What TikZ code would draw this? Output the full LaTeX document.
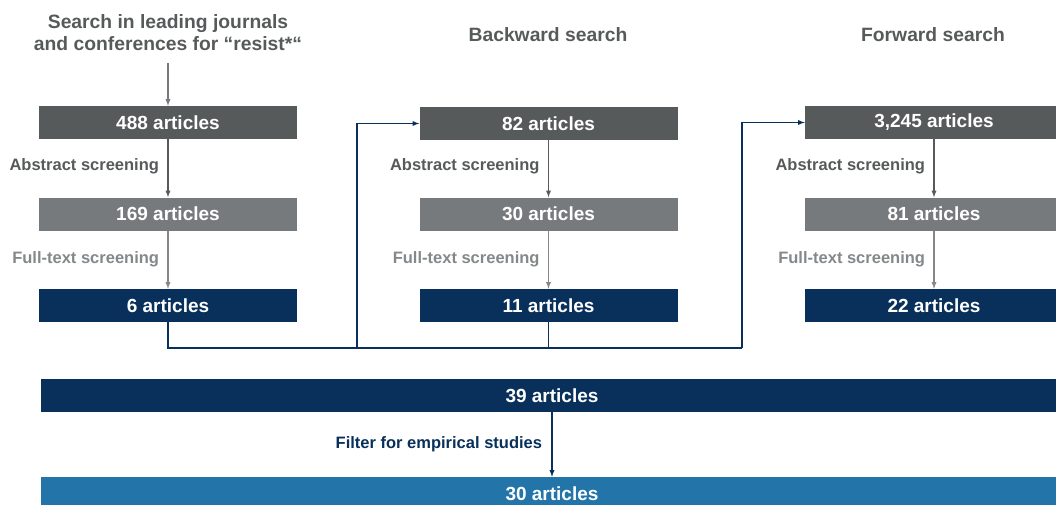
\documentclass[tikz,border=0pt]{standalone}
\usepackage{fontspec}
\setmainfont{Liberation Sans}
\usetikzlibrary{calc}
\definecolor{darkgrey}{HTML}{575A5B}
\definecolor{midgrey}{HTML}{767A7C}
\definecolor{lightgrey}{HTML}{84888A}
\definecolor{navy}{HTML}{08305A}
\definecolor{lightblue}{HTML}{2374A8}
\tikzset{
    box/.style={minimum width=258pt, minimum height=33pt, inner sep=0pt, text=white,
        font=\fontsize{19}{22}\selectfont\bfseries},
    widebox/.style={box, minimum width=1022pt},
    steplabel/.style={anchor=east, font=\fontsize{16.5}{19}\selectfont\bfseries},
    heading/.style={text=darkgrey, align=center, font=\fontsize{19.3}{22}\selectfont\bfseries},
    link/.style={line width=1.3pt},
}
\begin{document}
\begin{tikzpicture}[x=1pt, y=-1pt]
        \clip (0,0) rectangle (1056,504);
        % headings
        \node[heading] (hsearch) at (168,33) {Search in leading journals\\and conferences for “resist*“};
        \node[heading] (hback) at (548,35) {Backward search};
        \node[heading] (hfwd) at (933,35) {Forward search};
        % left column
        \node[box, fill=darkgrey] (a488) at (168,122.5) {488 articles};
        \node[box, fill=midgrey] (a169) at (168,214) {169 articles};
        \node[box, fill=navy] (a6) at (168,305.5) {6 articles};
        % middle column
        \node[box, fill=darkgrey] (b82) at (548.5,123.5) {82 articles};
        \node[box, fill=midgrey] (b30) at (548.5,214) {30 articles};
        \node[box, fill=navy] (b11) at (548.5,305.5) {11 articles};
        % right column
        \node[box, fill=darkgrey] (f3245) at (934,122.5) {3,245 articles};
        \node[box, fill=midgrey] (f81) at (934,214) {81 articles};
        \node[box, fill=navy] (f22) at (934,305.5) {22 articles};
        % totals
        \node[widebox, fill=navy] (t39) at (552,395.5) {39 articles};
        \node[widebox, fill=lightblue] (t30) at (552,493.5) {30 articles};
        % screening arrows
        \draw[link, midgrey, -latex] (hsearch.south |- 0,63) -- (a488.north);
        \foreach \u/\v in {a488/a169, b82/b30, f3245/f81} {
            \draw[link, darkgrey, -latex] (\u) -- (\v.north)
                node[midway, steplabel, text=darkgrey, xshift=-5pt, yshift=2pt] {Abstract screening};
        }
        \foreach \u/\v in {a169/a6, b30/b11, f81/f22} {
            \draw[link, lightgrey, -latex] (\u) -- (\v.north)
                node[midway, steplabel, text=lightgrey, xshift=-5pt] {Full-text screening};
        }
        % collecting line
        \coordinate (busW) at (357,348);
        \coordinate (busE) at (742,348);
        \draw[link, navy] (a6.south) |- (busE);
        \draw[link, navy] (b11.south) -- (b11.south |- busE);
        \draw[link, navy, -latex] (busW) |- (b82.west);
        \draw[link, navy, -latex] (busE) |- (f3245.west);
        % filter
        \draw[link, navy, -latex] (t39.south) -- (t30.north)
            node[midway, steplabel, text=navy, xshift=-6pt] {Filter for empirical studies};
\end{tikzpicture}
\end{document}
